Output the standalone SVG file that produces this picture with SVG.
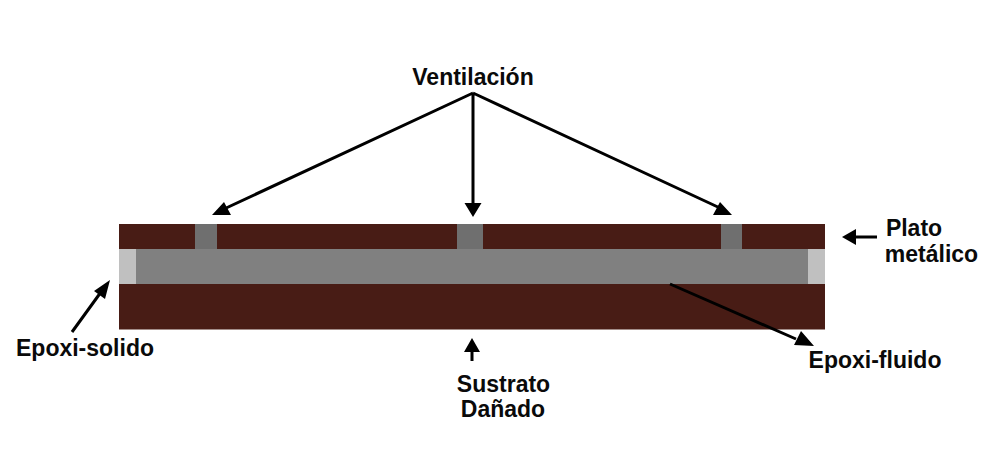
<svg xmlns="http://www.w3.org/2000/svg" width="1003" height="449" viewBox="0 0 1003 449">
<style>
text{font-family:"Liberation Sans",Arial,sans-serif;font-weight:bold;font-size:23px;fill:#0a0a0a;text-anchor:middle}
.plate{fill:#481c15}.vent{fill:#6f6f6f}.fluid{fill:#808080}.solid{fill:#c0c0c0}
.c{stroke:#000;stroke-width:3;fill:none}
.h{fill:#000}
</style>
<rect width="1003" height="449" fill="#fff"/>
<g id="plato-metalico">
<rect class="plate" x="119" y="224" width="706" height="25"/>
<text x="914" y="236">Plato</text><text x="931.500" y="262">metálico</text>
</g>
<g id="sustrato">
<rect class="plate" x="119" y="284" width="706" height="45.500"/>
<text x="503.500" y="392">Sustrato</text><text x="503" y="417">Dañado</text>
</g>
<g id="epoxi-fluido">
<rect class="fluid" x="136" y="249" width="672" height="35"/>
<text x="875" y="368">Epoxi-fluido</text>
</g>
<g id="epoxi-solido">
<rect class="solid" x="119" y="249" width="17" height="35"/>
<rect class="solid" x="808" y="249" width="17" height="35"/>
<text x="85" y="356">Epoxi-solido</text>
</g>
<g id="ventilacion">
<rect class="vent" x="195" y="224" width="22" height="25"/>
<rect class="vent" x="457" y="224" width="26" height="25"/>
<rect class="vent" x="721" y="224" width="21" height="25"/>
<text x="473" y="85">Ventilación</text>
</g>
<g id="connectors">
<path class="c" d="M473 93L224 209M473 93V204M473 93L720 208M72 332L101 292M670 284L796 339M877 237H856M472 361V351"/>
<path class="h" d="M212 215L231 215L224 202ZM473 217L464.500 203H481.500ZM732 215L713 215L720 202ZM110 280L94 291L105 299ZM814 346L801 331L794 345ZM842 237L856 229V245ZM472 338L464 352H480Z"/>
</g>
</svg>
